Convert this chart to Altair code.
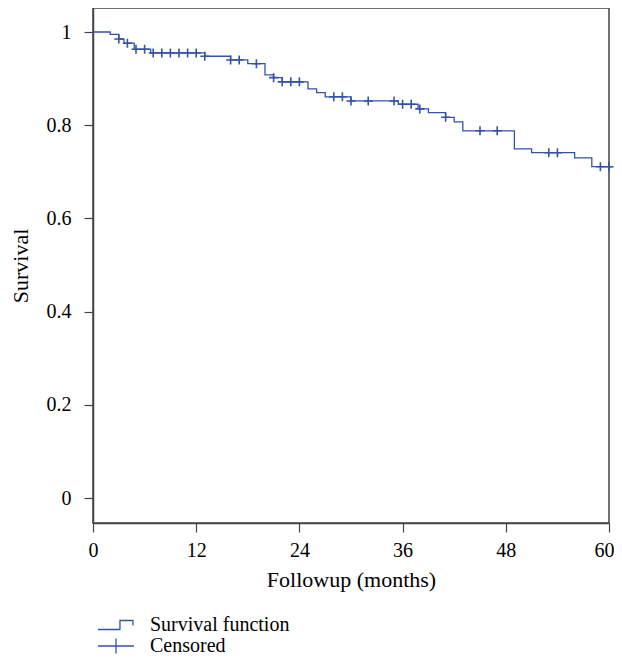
import altair as alt
import pandas as pd

# Kaplan-Meier step curve (time of drop, survival after drop)
step_times = [0, 2, 3, 3.6, 4.8, 6.7, 13, 16, 18, 20, 21, 22, 25, 26, 27, 30,
              35.5, 37.8, 39, 41, 42, 43, 49, 51, 56, 58, 60.4]
step_surv = [1.0, 0.995, 0.985, 0.976, 0.963, 0.955, 0.948, 0.940, 0.932, 0.908,
             0.902, 0.893, 0.878, 0.870, 0.861, 0.852, 0.845, 0.835, 0.827, 0.817,
             0.807, 0.788, 0.749, 0.741, 0.730, 0.711, 0.711]

# Censored observations
cens_times = [3, 4, 5, 6, 7, 8, 9, 10, 11, 12, 13, 16, 17, 19, 21, 22, 23, 24,
              28, 29, 30, 32, 35, 36, 37, 38, 41, 45, 47, 53, 54, 59, 60]
cens_surv = [0.985, 0.976, 0.963, 0.963, 0.955, 0.955, 0.955, 0.955, 0.955, 0.955,
             0.948, 0.940, 0.940, 0.932, 0.902, 0.893, 0.893, 0.893,
             0.861, 0.861, 0.852, 0.852, 0.852, 0.845, 0.845, 0.835, 0.817,
             0.788, 0.788, 0.741, 0.741, 0.711, 0.711]

x_ticks = [0, 12, 24, 36, 48, 60]
y_ticks = [0, 0.2, 0.4, 0.6, 0.8, 1.0]

BLUE = "#3652a7"
FONT = "Liberation Serif"
AXC = "#444444"

STEP_PATH = "M-1,0.25H0.22V-0.25H0.94V0.03"
PLUS_LEGEND = "M-1,0H1M0,-0.42V0.42"
PLUS_MARK = "M-1,0H1M0,-1V1"

step_df = pd.DataFrame({"t": step_times, "s": step_surv, "k": "Survival function"})
cens_df = pd.DataFrame({"t": cens_times, "s": cens_surv, "k": "Censored"})

x = alt.X("t:Q",
          scale=alt.Scale(domain=[0, 60], nice=False, zero=False),
          axis=alt.Axis(values=x_ticks, title="Followup (months)", format="d",
                        labelPadding=8, labelFlush=True, labelFlushOffset=5,
                        titleY=63, titleBaseline="alphabetic"))
y = alt.Y("s:Q",
          scale=alt.Scale(domain=[-0.0536, 1.0515], nice=False, zero=False),
          axis=alt.Axis(values=y_ticks, title="Survival", format="~g",
                        labelPadding=13, labelFlush=False,
                        titleX=-66, titleY=257.5,
                        titleAngle=270, titleBaseline="alphabetic",
                        titleAlign="center"))

common_legend = dict(title=None, orient="none", padding=0, labelFont=FONT,
                     labelFontSize=20, labelColor="black", labelOffset=15,
                     symbolSize=1296, symbolFillColor="transparent",
                     symbolStrokeColor=BLUE)

line = alt.Chart(step_df).mark_line(
    interpolate="step-after", strokeWidth=1.3, clip=False
).encode(
    x=x, y=y,
    color=alt.Color("k:N",
                    scale=alt.Scale(domain=["Survival function"], range=[BLUE]),
                    legend=alt.Legend(legendX=4, legendY=598,
                                      symbolType=STEP_PATH,
                                      symbolStrokeWidth=1.3,
                                      **common_legend)),
)

pts = alt.Chart(cens_df).mark_point(
    shape=PLUS_MARK, size=81, filled=False, strokeWidth=1.6, opacity=1
).encode(
    x=x, y=y,
    color=alt.Color("k:N",
                    scale=alt.Scale(domain=["Censored"], range=[BLUE]),
                    legend=alt.Legend(legendX=4, legendY=619,
                                      symbolType=PLUS_LEGEND,
                                      symbolStrokeWidth=1.3,
                                      **common_legend)),
)

chart = alt.layer(line, pts).resolve_scale(color="independent").resolve_legend(
    color="independent"
).properties(
    width=516, height=515,
    autosize="none",
    padding={"left": 85, "top": 0, "right": 5, "bottom": 132},
).configure_view(
    stroke=AXC, strokeWidth=1.5
).configure_axis(
    grid=False, domainColor=AXC, domainWidth=1.5, tickColor=AXC, tickWidth=1.2,
    tickSize=9, labelFont=FONT, labelFontSize=20, labelColor="black",
    titleFont=FONT, titleFontSize=22, titleFontWeight="normal", titleColor="black",
)

chart.save("out.html", embed_options={"renderer": "svg", "actions": False})
